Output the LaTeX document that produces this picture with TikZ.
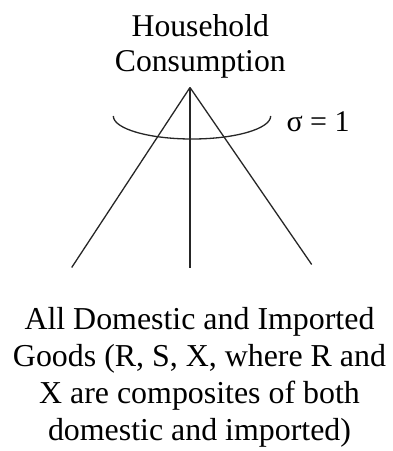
\documentclass[tikz,border=0pt]{standalone}
\usepackage{fontspec}
\setmainfont{Liberation Serif}
\begin{document}
\begin{tikzpicture}[x=1pt,y=-1pt,
  label/.style={inner sep=0pt, outer sep=0pt, align=center, anchor=base},
  big/.style={font=\fontsize{31.7}{35}\selectfont},
  bottomtext/.style={font=\fontsize{31.9}{36.9}\selectfont},
  branch/.style={line width=1.3pt, black!85}]
\useasboundingbox (0,0) rectangle (392,451);
\node[label,big] (top) at (200.3,71.7) {Household\\Consumption};
\coordinate (apex) at (190,87.5);
\coordinate (l) at (71.7,267.5);
\coordinate (m) at (190,268);
\coordinate (r) at (311.7,264.5);
\draw[branch] (apex) -- (l);
\draw[branch] (apex) -- (m);
\draw[branch] (apex) -- (r);
\coordinate (arcstart) at (113.3,116);
\draw[branch] (arcstart) arc[start angle=180, end angle=360, x radius=78.7, y radius=-23];
\node[label,font=\fontsize{30}{34}\selectfont, anchor=base west] (sigma) at (286.5,131.7) {σ = 1};
\node[label,bottomtext] (goods) at (199.5,440) {All Domestic and Imported\\Goods (R, S, X, where R and\\X are composites of both\\domestic and imported)};
\end{tikzpicture}
\end{document}
